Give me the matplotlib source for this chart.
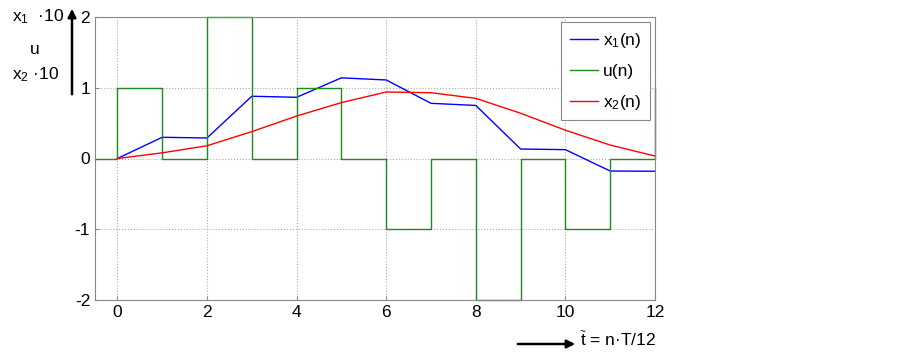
import matplotlib.pyplot as plt

plt.rcParams["font.family"] = ["Liberation Sans", "DejaVu Sans"]
plt.rcParams["mathtext.fontset"] = "custom"
plt.rcParams["mathtext.rm"] = "Liberation Sans"
plt.rcParams["mathtext.it"] = "Liberation Sans"

# ---- data ----
n = list(range(13))
x1 = [0, 0.30, 0.29, 0.88, 0.865, 1.14, 1.11, 0.78, 0.75, 0.134, 0.125, -0.177, -0.18]
x2 = [0, 0.08, 0.18, 0.38, 0.60, 0.79, 0.94, 0.93, 0.85, 0.64, 0.40, 0.19, 0.035]
u_t = [-0.5, 0, 1, 2, 3, 4, 5, 6, 7, 8, 9, 10, 11, 12]
u = [0, 1, 0, 2, 0, 1, 0, -1, 0, -2, 0, -1, 0, 1]
xticks = [0, 2, 4, 6, 8, 10, 12]
yticks = [-2, -1, 0, 1, 2]
ytick_labels = ["-2", "-1", "0", "1", "2"]

fig = plt.figure(figsize=(9.03, 3.57), dpi=100)
ax = fig.add_axes([95 / 903, 1 - 300 / 357, 560 / 903, 283 / 357])

ax.plot(n, x1, color="#0000ff", lw=1.0, label="x$_1$(n)")
ax.plot(u_t, u, color="#1f8a1f", lw=1.0, drawstyle="steps-post", label="u(n)", clip_on=False)
ax.plot(n, x2, color="#ff0000", lw=1.0, label="x$_2$(n)")

ax.set_xlim(-0.5, 12)
ax.set_ylim(-2, 2)
ax.set_xticks(xticks)
ax.set_yticks(yticks)
ax.set_yticklabels(ytick_labels)
ax.tick_params(labelsize=12.5, length=3, color="#888888", direction="in")
ax.grid(True, ls=":", color="#aaaaaa", lw=0.8)
for s in ax.spines.values():
    s.set_color("#888888")

leg = ax.legend(loc="upper right", fontsize=12.5, fancybox=False, framealpha=1,
                edgecolor="#888888", handlelength=1.6, handletextpad=0.3,
                borderaxespad=0.3, labelspacing=0.8, borderpad=0.5)
leg.get_frame().set_linewidth(0.8)

# y label block with arrow
fig.text(12 / 903, 1 - 17 / 357, "x$_1$  \u00b710", fontsize=12.5, va="center")
fig.text(30 / 903, 1 - 49 / 357, "u", fontsize=12.5, va="center")
fig.text(12 / 903, 1 - 75 / 357, "x$_2$ \u00b710", fontsize=12.5, va="center")
fig.add_artist(plt.Annotation("", xy=(72 / 903, 1 - 6 / 357), xytext=(72 / 903, 1 - 97 / 357),
                              xycoords="figure fraction", textcoords="figure fraction",
                              arrowprops=dict(arrowstyle="-|>", color="black", lw=1.8,
                                              mutation_scale=12)))

# x label with arrow
fig.add_artist(plt.Annotation("", xy=(578 / 903, 1 - 344 / 357), xytext=(515 / 903, 1 - 344 / 357),
                              xycoords="figure fraction", textcoords="figure fraction",
                              arrowprops=dict(arrowstyle="-|>", color="black", lw=1.8,
                                              mutation_scale=12)))
fig.text(580 / 903, 1 - 340 / 357, r"$\widetilde{\mathrm{t}}$" + " = n\u00b7T/12",
         fontsize=12.5, va="center")

fig.savefig("out.png", dpi=100)
